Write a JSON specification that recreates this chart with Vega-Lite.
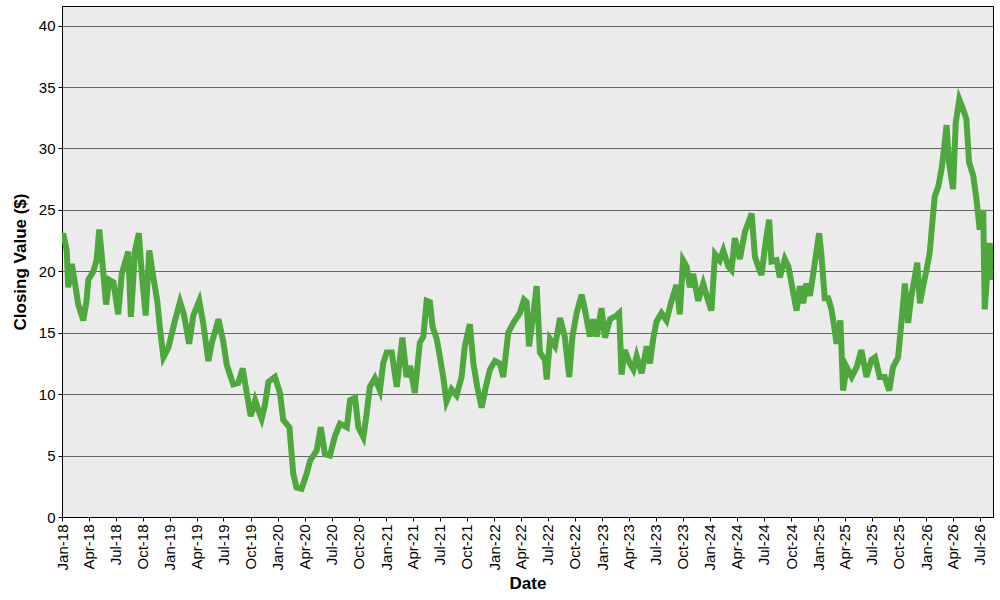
{
  "$schema": "https://vega.github.io/schema/vega-lite/v6.json",
  "width": 931,
  "height": 511,
  "autosize": "none",
  "padding": {"left": 62, "top": 6, "right": 7, "bottom": 83},
  "background": "white",
  "config": {
    "font": "Liberation Sans",
    "view": {"fill": "#ebebeb", "stroke": "black", "strokeWidth": 1},
    "axis": {
      "labelFont": "Liberation Sans",
      "titleFont": "Liberation Sans",
      "labelFontSize": 15,
      "labelColor": "#000",
      "titleFontSize": 17,
      "titleFontWeight": "bold",
      "titleColor": "#000",
      "domainColor": "#000",
      "tickColor": "#000",
      "tickSize": 4
    }
  },
  "data": {
    "values": [
      {"date": "2018-01-01", "close": 22.6},
      {"date": "2018-01-05", "close": 23.1},
      {"date": "2018-01-17", "close": 21.7},
      {"date": "2018-01-22", "close": 18.7},
      {"date": "2018-02-03", "close": 20.6},
      {"date": "2018-02-14", "close": 19.0},
      {"date": "2018-02-25", "close": 17.3},
      {"date": "2018-03-14", "close": 16.0},
      {"date": "2018-03-25", "close": 17.6},
      {"date": "2018-03-31", "close": 19.3},
      {"date": "2018-04-17", "close": 20.0},
      {"date": "2018-04-28", "close": 20.9},
      {"date": "2018-05-07", "close": 23.4},
      {"date": "2018-05-15", "close": 21.4},
      {"date": "2018-05-30", "close": 17.3},
      {"date": "2018-06-10", "close": 19.3},
      {"date": "2018-06-24", "close": 19.1},
      {"date": "2018-07-10", "close": 16.5},
      {"date": "2018-07-22", "close": 19.8},
      {"date": "2018-08-13", "close": 21.6},
      {"date": "2018-08-22", "close": 16.3},
      {"date": "2018-09-05", "close": 21.7},
      {"date": "2018-09-18", "close": 23.1},
      {"date": "2018-09-27", "close": 20.0},
      {"date": "2018-10-11", "close": 16.4},
      {"date": "2018-10-23", "close": 21.7},
      {"date": "2018-11-06", "close": 19.5},
      {"date": "2018-11-19", "close": 17.6},
      {"date": "2018-11-28", "close": 15.4},
      {"date": "2018-12-10", "close": 13.0},
      {"date": "2018-12-27", "close": 13.8},
      {"date": "2019-01-18", "close": 16.0},
      {"date": "2019-02-04", "close": 17.5},
      {"date": "2019-02-17", "close": 16.5},
      {"date": "2019-03-07", "close": 14.1},
      {"date": "2019-03-21", "close": 16.4},
      {"date": "2019-04-10", "close": 17.6},
      {"date": "2019-04-24", "close": 15.7},
      {"date": "2019-05-11", "close": 12.7},
      {"date": "2019-05-22", "close": 14.1},
      {"date": "2019-06-14", "close": 16.1},
      {"date": "2019-06-30", "close": 14.3},
      {"date": "2019-07-12", "close": 12.4},
      {"date": "2019-08-03", "close": 10.8},
      {"date": "2019-08-20", "close": 10.9},
      {"date": "2019-09-04", "close": 12.1},
      {"date": "2019-09-17", "close": 10.2},
      {"date": "2019-10-01", "close": 8.2},
      {"date": "2019-10-16", "close": 9.5},
      {"date": "2019-10-27", "close": 8.7},
      {"date": "2019-11-07", "close": 8.0},
      {"date": "2019-11-18", "close": 9.1},
      {"date": "2019-11-30", "close": 11.0},
      {"date": "2019-12-22", "close": 11.4},
      {"date": "2020-01-08", "close": 10.1},
      {"date": "2020-01-19", "close": 7.9},
      {"date": "2020-02-09", "close": 7.3},
      {"date": "2020-02-22", "close": 3.5},
      {"date": "2020-03-04", "close": 2.4},
      {"date": "2020-03-21", "close": 2.3},
      {"date": "2020-04-07", "close": 3.5},
      {"date": "2020-04-19", "close": 4.6},
      {"date": "2020-05-11", "close": 5.4},
      {"date": "2020-05-25", "close": 7.3},
      {"date": "2020-06-08", "close": 5.1},
      {"date": "2020-06-25", "close": 5.0},
      {"date": "2020-07-12", "close": 6.6},
      {"date": "2020-07-29", "close": 7.6},
      {"date": "2020-08-21", "close": 7.3},
      {"date": "2020-09-01", "close": 9.5},
      {"date": "2020-09-18", "close": 9.7},
      {"date": "2020-09-29", "close": 7.3},
      {"date": "2020-10-16", "close": 6.5},
      {"date": "2020-10-27", "close": 8.4},
      {"date": "2020-11-07", "close": 10.6},
      {"date": "2020-11-24", "close": 11.3},
      {"date": "2020-12-11", "close": 10.3},
      {"date": "2020-12-22", "close": 12.5},
      {"date": "2021-01-03", "close": 13.4},
      {"date": "2021-01-20", "close": 13.4},
      {"date": "2021-02-06", "close": 10.6},
      {"date": "2021-02-25", "close": 14.6},
      {"date": "2021-03-11", "close": 11.4},
      {"date": "2021-03-23", "close": 12.3},
      {"date": "2021-04-08", "close": 10.1},
      {"date": "2021-04-25", "close": 14.2},
      {"date": "2021-05-07", "close": 14.7},
      {"date": "2021-05-18", "close": 17.6},
      {"date": "2021-05-29", "close": 17.5},
      {"date": "2021-06-07", "close": 15.5},
      {"date": "2021-06-21", "close": 14.5},
      {"date": "2021-07-02", "close": 13.0},
      {"date": "2021-07-13", "close": 11.4},
      {"date": "2021-07-24", "close": 9.4},
      {"date": "2021-08-10", "close": 10.4},
      {"date": "2021-08-27", "close": 9.9},
      {"date": "2021-09-13", "close": 11.4},
      {"date": "2021-09-24", "close": 13.9},
      {"date": "2021-10-11", "close": 15.7},
      {"date": "2021-10-23", "close": 12.5},
      {"date": "2021-11-05", "close": 10.6},
      {"date": "2021-11-20", "close": 8.9},
      {"date": "2021-12-04", "close": 10.6},
      {"date": "2021-12-18", "close": 12.0},
      {"date": "2022-01-04", "close": 12.7},
      {"date": "2022-01-21", "close": 12.5},
      {"date": "2022-02-01", "close": 11.4},
      {"date": "2022-02-18", "close": 15.0},
      {"date": "2022-03-07", "close": 15.8},
      {"date": "2022-03-18", "close": 16.2},
      {"date": "2022-03-29", "close": 16.6},
      {"date": "2022-04-12", "close": 17.7},
      {"date": "2022-04-21", "close": 17.5},
      {"date": "2022-04-29", "close": 13.9},
      {"date": "2022-05-13", "close": 16.4},
      {"date": "2022-05-25", "close": 18.8},
      {"date": "2022-06-05", "close": 13.4},
      {"date": "2022-06-22", "close": 12.8},
      {"date": "2022-06-28", "close": 11.2},
      {"date": "2022-07-09", "close": 14.5},
      {"date": "2022-07-26", "close": 13.9},
      {"date": "2022-08-12", "close": 16.2},
      {"date": "2022-08-28", "close": 14.7},
      {"date": "2022-09-12", "close": 11.4},
      {"date": "2022-09-23", "close": 14.7},
      {"date": "2022-10-07", "close": 16.6},
      {"date": "2022-10-24", "close": 18.1},
      {"date": "2022-11-04", "close": 16.9},
      {"date": "2022-11-21", "close": 14.7},
      {"date": "2022-12-02", "close": 16.1},
      {"date": "2022-12-14", "close": 14.7},
      {"date": "2022-12-30", "close": 17.0},
      {"date": "2023-01-11", "close": 14.6},
      {"date": "2023-01-28", "close": 16.1},
      {"date": "2023-02-19", "close": 16.4},
      {"date": "2023-02-28", "close": 16.6},
      {"date": "2023-03-08", "close": 11.6},
      {"date": "2023-03-19", "close": 13.6},
      {"date": "2023-04-05", "close": 12.5},
      {"date": "2023-04-17", "close": 12.0},
      {"date": "2023-04-28", "close": 13.1},
      {"date": "2023-05-15", "close": 11.7},
      {"date": "2023-06-01", "close": 13.9},
      {"date": "2023-06-12", "close": 12.5},
      {"date": "2023-06-23", "close": 14.5},
      {"date": "2023-07-04", "close": 15.9},
      {"date": "2023-07-21", "close": 16.6},
      {"date": "2023-08-07", "close": 16.0},
      {"date": "2023-08-24", "close": 17.6},
      {"date": "2023-09-10", "close": 18.9},
      {"date": "2023-09-21", "close": 16.5},
      {"date": "2023-10-02", "close": 20.9},
      {"date": "2023-10-14", "close": 20.4},
      {"date": "2023-10-25", "close": 18.7},
      {"date": "2023-11-05", "close": 19.8},
      {"date": "2023-11-22", "close": 17.6},
      {"date": "2023-12-09", "close": 19.0},
      {"date": "2023-12-26", "close": 17.6},
      {"date": "2024-01-06", "close": 16.8},
      {"date": "2024-01-18", "close": 21.4},
      {"date": "2024-02-03", "close": 20.9},
      {"date": "2024-02-15", "close": 21.7},
      {"date": "2024-03-03", "close": 20.4},
      {"date": "2024-03-14", "close": 20.1},
      {"date": "2024-03-25", "close": 22.7},
      {"date": "2024-04-11", "close": 21.0},
      {"date": "2024-04-28", "close": 23.2},
      {"date": "2024-05-09", "close": 23.9},
      {"date": "2024-05-21", "close": 24.7},
      {"date": "2024-06-01", "close": 21.2},
      {"date": "2024-06-12", "close": 20.4},
      {"date": "2024-06-23", "close": 19.7},
      {"date": "2024-07-08", "close": 22.5},
      {"date": "2024-07-19", "close": 24.2},
      {"date": "2024-07-27", "close": 20.8},
      {"date": "2024-08-13", "close": 20.9},
      {"date": "2024-08-24", "close": 19.5},
      {"date": "2024-09-10", "close": 21.0},
      {"date": "2024-09-22", "close": 20.4},
      {"date": "2024-10-03", "close": 19.0},
      {"date": "2024-10-20", "close": 16.8},
      {"date": "2024-10-31", "close": 18.8},
      {"date": "2024-11-11", "close": 17.4},
      {"date": "2024-11-22", "close": 19.0},
      {"date": "2024-12-04", "close": 18.0},
      {"date": "2024-12-15", "close": 19.8},
      {"date": "2024-12-26", "close": 21.6},
      {"date": "2025-01-04", "close": 23.1},
      {"date": "2025-01-12", "close": 21.3},
      {"date": "2025-01-23", "close": 17.8},
      {"date": "2025-02-04", "close": 17.8},
      {"date": "2025-02-15", "close": 16.9},
      {"date": "2025-02-26", "close": 15.2},
      {"date": "2025-03-04", "close": 14.1},
      {"date": "2025-03-17", "close": 16.0},
      {"date": "2025-03-26", "close": 10.3},
      {"date": "2025-04-07", "close": 12.2},
      {"date": "2025-04-24", "close": 11.4},
      {"date": "2025-05-11", "close": 12.2},
      {"date": "2025-05-27", "close": 13.6},
      {"date": "2025-06-13", "close": 11.4},
      {"date": "2025-06-30", "close": 12.8},
      {"date": "2025-07-12", "close": 13.0},
      {"date": "2025-07-28", "close": 11.4},
      {"date": "2025-08-14", "close": 11.4},
      {"date": "2025-08-29", "close": 10.3},
      {"date": "2025-09-11", "close": 12.2},
      {"date": "2025-09-28", "close": 13.0},
      {"date": "2025-10-10", "close": 16.0},
      {"date": "2025-10-21", "close": 19.0},
      {"date": "2025-11-01", "close": 15.8},
      {"date": "2025-11-12", "close": 18.0},
      {"date": "2025-11-24", "close": 19.6},
      {"date": "2025-12-02", "close": 20.7},
      {"date": "2025-12-11", "close": 17.4},
      {"date": "2025-12-22", "close": 18.8},
      {"date": "2026-01-02", "close": 20.1},
      {"date": "2026-01-13", "close": 21.5},
      {"date": "2026-01-22", "close": 24.0},
      {"date": "2026-01-30", "close": 26.1},
      {"date": "2026-02-11", "close": 26.9},
      {"date": "2026-02-22", "close": 28.3},
      {"date": "2026-03-05", "close": 30.5},
      {"date": "2026-03-11", "close": 31.9},
      {"date": "2026-03-19", "close": 28.9},
      {"date": "2026-04-02", "close": 26.7},
      {"date": "2026-04-11", "close": 32.1},
      {"date": "2026-04-23", "close": 34.0},
      {"date": "2026-05-06", "close": 33.2},
      {"date": "2026-05-17", "close": 32.4},
      {"date": "2026-05-26", "close": 28.9},
      {"date": "2026-06-09", "close": 27.8},
      {"date": "2026-06-20", "close": 25.9},
      {"date": "2026-07-01", "close": 23.4},
      {"date": "2026-07-13", "close": 25.0},
      {"date": "2026-07-18", "close": 16.9},
      {"date": "2026-07-26", "close": 19.6},
      {"date": "2026-08-04", "close": 22.3},
      {"date": "2026-08-12", "close": 19.3}
    ]
  },
  "mark": {"type": "line", "color": "#4fa83d", "strokeWidth": 6, "strokeJoin": "miter", "clip": true},
  "encoding": {
    "x": {
      "field": "date",
      "type": "temporal",
      "title": "Date",
      "scale": {"domain": ["2018-01-01", "2026-08-15"], "nice": false},
      "axis": {
        "format": "%b-%y",
        "tickCount": {"interval": "month", "step": 3},
        "labelAngle": -90,
        "labelPadding": 3,
        "labelOverlap": false,
        "labelFlush": false,
        "grid": false,
        "titlePadding": 6
      }
    },
    "y": {
      "field": "close",
      "type": "quantitative",
      "title": "Closing Value ($)",
      "scale": {"domain": [0, 41.6], "nice": false, "zero": true},
      "axis": {
        "values": [0, 5, 10, 15, 20, 25, 30, 35, 40],
        "grid": true,
        "gridColor": "#666666",
        "gridWidth": 1,
        "labelPadding": 3,
        "titlePadding": 9
      }
    }
  }
}
